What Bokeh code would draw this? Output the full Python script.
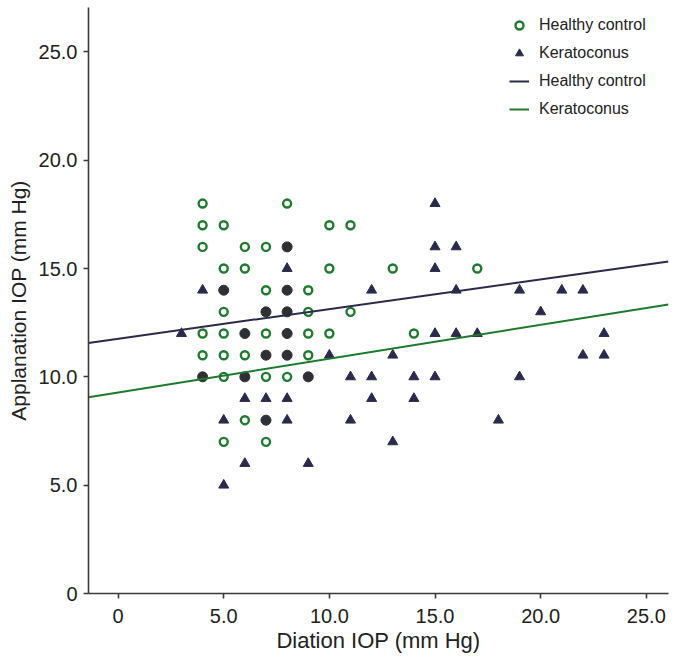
from bokeh.plotting import figure
from bokeh.models import Range1d, FixedTicker, Legend, LegendItem
from bokeh.embed import file_html
from bokeh.resources import INLINE

# data (Diation IOP, Applanation IOP)
healthy_x = [4, 8, 4, 5, 10, 11, 4, 6, 7, 5, 6, 10, 13, 17, 7, 9, 5, 9, 11,
             4, 5, 7, 9, 10, 14, 4, 5, 6, 9, 5, 7, 8, 6, 5, 7]
healthy_y = [18, 18, 17, 17, 17, 17, 16, 16, 16, 15, 15, 15, 15, 15, 14, 14, 13, 13, 13,
             12, 12, 12, 12, 12, 12, 11, 11, 11, 11, 10, 10, 10, 8, 7, 7]

kerato_x = [15, 15, 16, 8, 15, 4, 12, 16, 19, 21, 22, 20, 3, 15, 16, 17, 23,
            10, 13, 22, 23, 11, 12, 14, 15, 19, 6, 7, 8, 12, 14, 5, 8, 11, 18,
            13, 6, 9, 5]
kerato_y = [18, 16, 16, 15, 15, 14, 14, 14, 14, 14, 14, 13, 12, 12, 12, 12, 12,
            11, 11, 11, 11, 10, 10, 10, 10, 10, 9, 9, 9, 9, 9, 8, 8, 8, 8,
            7, 6, 6, 5]

# points where both groups overlap
both_x = [8, 5, 8, 7, 8, 6, 8, 7, 8, 4, 6, 9, 7]
both_y = [16, 14, 14, 13, 13, 12, 12, 11, 11, 10, 10, 10, 8]

# fit lines (intercept, slope)
healthy_fit = (11.76, 0.137)
kerato_fit = (9.28, 0.156)

x_ticks = [0, 5, 10, 15, 20, 25]
y_ticks = [0, 5, 10, 15, 20, 25]
tick_labels = {0: "0", 5: "5.0", 10: "10.0", 15: "15.0", 20: "20.0", 25: "25.0"}

green = "#1e7a2e"
navy = "#2c2a4c"
font = "Liberation Sans"

x0, x1 = -1.4, 26.05
p = figure(width=674, height=657, output_backend="svg", toolbar_location=None,
           x_range=Range1d(x0, x1), y_range=Range1d(0, 27.05),
           min_border_left=88, min_border_right=6, min_border_top=7, min_border_bottom=64)
p.outline_line_color = None
p.grid.visible = False
p.background_fill_color = "white"

for ax in (p.xaxis[0], p.yaxis[0]):
    ax.axis_line_color = "#3a3a3a"
    ax.axis_line_width = 1.6
    ax.major_tick_line_color = "#3a3a3a"
    ax.major_tick_line_width = 1.6
    ax.major_tick_in = 0
    ax.major_tick_out = 5
    ax.minor_tick_line_color = None
    ax.major_label_text_font = font
    ax.major_label_text_font_size = "20px"
    ax.major_label_text_color = "#222222"
    ax.axis_label_text_font = font
    ax.axis_label_text_font_style = "normal"
    ax.axis_label_text_color = "#222222"
    ax.major_label_overrides = tick_labels

p.xaxis.ticker = FixedTicker(ticks=x_ticks)
p.yaxis.ticker = FixedTicker(ticks=y_ticks)
p.xaxis.axis_label = "Diation IOP (mm Hg)"
p.yaxis.axis_label = "Applanation IOP (mm Hg)"
p.xaxis.axis_label_text_font_size = "22px"
p.yaxis.axis_label_text_font_size = "21px"
p.xaxis.major_label_standoff = 10
p.yaxis.major_label_standoff = 6
p.xaxis.axis_label_standoff = 2
p.yaxis.axis_label_standoff = 6

r_h = p.scatter(healthy_x, healthy_y, marker="circle", size=8, fill_color=None,
                line_color=green, line_width=2.4)
r_k = p.scatter(kerato_x, kerato_y, marker="triangle", size=10, fill_color=navy,
                line_color=navy, line_width=1)
p.scatter(both_x, both_y, marker="circle", size=10, fill_color="#2f2f36",
          line_color="#2f2f36")

lx = [x0, x1]
l_h = p.line(lx, [healthy_fit[0] + healthy_fit[1] * v for v in lx], line_color=navy, line_width=2)
l_k = p.line(lx, [kerato_fit[0] + kerato_fit[1] * v for v in lx], line_color=green, line_width=2)

legend = Legend(items=[
    LegendItem(label="Healthy control", renderers=[r_h]),
    LegendItem(label="Keratoconus", renderers=[r_k]),
    LegendItem(label="Healthy control", renderers=[l_h]),
    LegendItem(label="Keratoconus", renderers=[l_k]),
], location=(421, 474))
legend.border_line_color = None
legend.background_fill_alpha = 0
legend.padding = 0
legend.margin = 0
legend.spacing = 8
legend.glyph_width = 20
legend.glyph_height = 20
legend.label_height = 20
legend.label_standoff = 10
legend.label_text_font = font
legend.label_text_font_size = "16px"
legend.label_text_color = "#222222"
p.add_layout(legend, "center")

open("out.html", "w").write(file_html(p, INLINE))
